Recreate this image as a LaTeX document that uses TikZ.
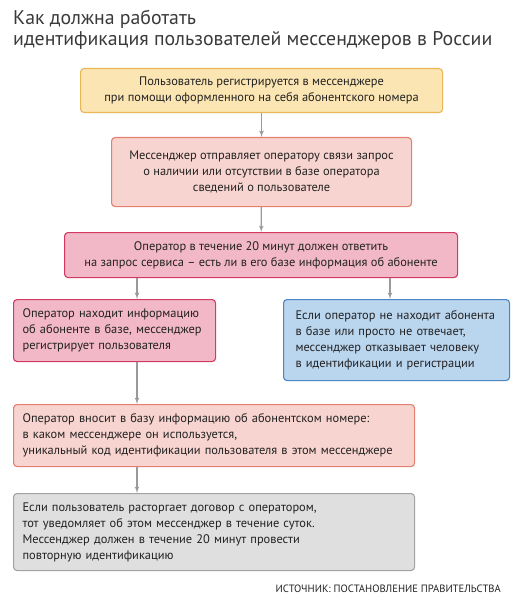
\documentclass[tikz,border=0pt]{standalone}
\usepackage{fontspec}
\setmainfont{PT Sans}
\usetikzlibrary{shapes,arrows}
\definecolor{textgray}{HTML}{222222}
\definecolor{titlegray}{HTML}{3A3A3A}
\definecolor{arrowgray}{HTML}{9A9A9A}
\definecolor{yelfill}{HTML}{FBE5B3}
\definecolor{yeldraw}{HTML}{EBB655}
\definecolor{rosefill}{HTML}{F7D4CF}
\definecolor{rosedraw}{HTML}{E3806F}
\definecolor{pinkfill}{HTML}{F3B8C8}
\definecolor{pinkdraw}{HTML}{D23A62}
\definecolor{bluefill}{HTML}{BAD5EE}
\definecolor{bluedraw}{HTML}{4A86C2}
\definecolor{greyfill}{HTML}{DFDFDF}
\definecolor{greydraw}{HTML}{A2A2A2}
\tikzstyle{block} = [rectangle, draw, rounded corners=3.5pt, line width=1.1pt,
    anchor=north west, inner xsep=9pt, inner ysep=0pt, text=textgray,
    font=\fontsize{12.4}{16}\selectfont]
\tikzstyle{cblock} = [block, align=center]
\tikzstyle{lblock} = [block, align=left]
\tikzstyle{line} = [draw, -latex', line width=1.2pt, arrowgray]

\begin{document}
\begin{tikzpicture}[x=1pt, y=-1pt]
 \useasboundingbox (0,0) rectangle (528,604);
 % Title
   \node[anchor=north west, inner sep=0pt, align=left, text=titlegray,
     font=\fontsize{19.8}{21}\selectfont] (title) at (13,10)
     {Как должна работать\\идентификация пользователей мессенджеров в России};

 % Place nodes
   \node[cblock, fill=yelfill, draw=yeldraw, minimum width=362, minimum height=44]
     (b1) at (80,68) {Пользователь регистрируется в мессенджере\\при помощи оформленного на себя абонентского номера};
   \node[cblock, fill=rosefill, draw=rosedraw, minimum width=300, minimum height=69]
     (b2) at (111,137) {Мессенджер отправляет оператору связи запрос\\о наличии или отсутствии в базе оператора\\сведений о пользователе};
   \node[cblock, fill=pinkfill, draw=pinkdraw, minimum width=393, minimum height=45]
     (b3) at (64,232) {Оператор в течение 20 минут должен ответить\\на запрос сервиса – есть ли в его базе информация об абоненте};
   \node[lblock, fill=pinkfill, draw=pinkdraw, text width=184, minimum height=62]
     (b4) at (13,299) {Оператор находит информацию\\об абоненте в базе, мессенджер\\регистрирует пользователя};
   \node[lblock, fill=bluefill, draw=bluedraw, inner xsep=12pt, text width=202, minimum height=81]
     (b5) at (283,299) {Если оператор не находит абонента\\в базе или просто не отвечает,\\мессенджер отказывает человеку\\в идентификации и регистрации};
   \node[lblock, fill=rosefill, draw=rosedraw, text width=383, minimum height=62]
     (b6) at (13,404) {Оператор вносит в базу информацию об абонентском номере:\\в каком мессенджере он используется,\\уникальный код идентификации пользователя в этом мессенджере};
   \node[lblock, fill=greyfill, draw=greydraw, text width=383, minimum height=77]
     (b7) at (13,493) {Если пользователь расторгает договор с оператором,\\тот уведомляет об этом мессенджер в течение суток.\\Мессенджер должен в течение 20 минут провести\\повторную идентификацию};
   \node[anchor=base east, inner sep=0pt, text=textgray,
     font=\fontsize{10.6}{12}\selectfont] (src) at (501,592)
     {ИСТОЧНИК: ПОСТАНОВЛЕНИЕ ПРАВИТЕЛЬСТВА};
   \coordinate (colL) at (137,0);
   \coordinate (colR) at (390,0);

 % Draw edges
   \path [line] (b1) -- (b2); \path [line] (b2) -- (b3);
   \path [line] (b3.south -| colL) -- (b4.north -| colL);
   \path [line] (b3.south -| colR) -- (b5.north -| colR);
   \path [line] (b4.south -| colL) -- (b6.north -| colL);
   \path [line] (b6.south -| colL) -- (b7.north -| colL);
\end{tikzpicture}
\end{document}
